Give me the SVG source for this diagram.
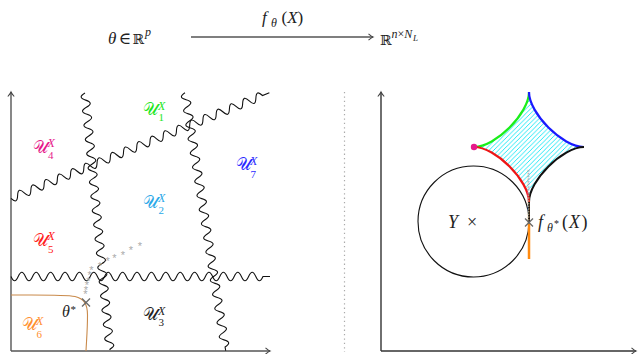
<svg xmlns="http://www.w3.org/2000/svg" width="638" height="354" viewBox="0 0 638 354">
<style>
.snake{fill:none;stroke:#111;stroke-width:1.1}
.axL{stroke:#555;stroke-width:1.4;fill:none}
.axR{stroke:#333;stroke-width:1.4;fill:none}
.t{font-family:"Liberation Serif","DejaVu Serif",serif;fill:#222}
.it{font-style:italic}
.cal{font-family:"DejaVu Serif","DejaVu Sans","Noto Sans",serif;font-size:17px}
.sup{font-family:"Liberation Serif","DejaVu Serif",serif;font-style:italic;font-size:12px}
.sub{font-family:"Liberation Serif","DejaVu Serif",serif;font-size:11px}
.st{fill:#aaa;font-family:"Liberation Sans",sans-serif;font-size:11px;text-anchor:middle}
.cross{stroke:#666;stroke-width:1.2}
</style>
<defs>
<marker id="to" viewBox="-6 -5 8 10" refX="0" refY="0" markerWidth="8" markerHeight="10" markerUnits="userSpaceOnUse" orient="auto">
<path d="M-4.5,-3.2 Q-1.5,-0.6 0,0 Q-1.5,0.6 -4.5,3.2" fill="none" stroke="#444" stroke-width="1.1"/>
</marker>
<pattern id="hatch" patternUnits="userSpaceOnUse" width="4.6" height="4.6">
<path d="M0,4.6 L4.6,0 M-1,1 L1,-1 M3.6,5.6 L5.6,3.6" stroke="#00e4f4" stroke-width="0.85"/>
</pattern>
</defs>

<g id="header">
<text class="t" font-size="17"><tspan class="it" x="108" y="43.5">θ</tspan><tspan x="118.5" y="43.5">∈</tspan><tspan x="132.5" y="43.5" font-size="14">ℝ</tspan><tspan class="it" x="145" y="36" font-size="12">p</tspan></text>
<line x1="191" y1="37" x2="373" y2="37" stroke="#555" stroke-width="1.3" marker-end="url(#to)"/>
<text class="t"><tspan class="it" x="262" y="23" font-size="17">f</tspan><tspan class="it" x="271" y="27" font-size="12">θ</tspan><tspan x="281.5" y="23" font-size="17">(</tspan><tspan class="it" font-size="17">X</tspan><tspan font-size="17">)</tspan></text>
<text class="t"><tspan x="380" y="45" font-size="14">ℝ</tspan><tspan x="391.5" y="38" font-size="12"><tspan class="it">n</tspan>×<tspan class="it">N</tspan></tspan><tspan class="it" x="413" y="41" font-size="9">L</tspan></text>
</g>

<g id="separator">
<line x1="344.5" y1="92" x2="344.5" y2="352" stroke="#aaa" stroke-width="1.2" stroke-dasharray="1.3 3.1"/>
</g>

<g id="left-panel">
<g id="left-axes">
<line class="axL" x1="11" y1="351" x2="11" y2="92" marker-end="url(#to)"/>
<line class="axL" x1="11" y1="351" x2="270" y2="351" marker-end="url(#to)"/>
</g>
<g id="connectors">
<path class="snake" transform="translate(85,93) rotate(84.44)" d="M0,0 c2.57,5.6 4.58,5.6 7.15,0 s4.58,-5.6 7.15,0 s4.58,5.6 7.15,0 s4.58,-5.6 7.15,0 s4.58,5.6 7.15,0 s4.58,-5.6 7.15,0 s4.58,5.6 7.15,0 s4.58,-5.6 7.15,0 s4.58,5.6 7.15,0 s4.58,-5.6 7.15,0 s4.58,5.6 7.15,0 s4.58,-5.6 7.15,0 s4.58,5.6 7.15,0 s4.58,-5.6 7.15,0 s4.58,5.6 7.15,0 s4.58,-5.6 7.15,0 s4.58,5.6 7.15,0 s4.58,-5.6 7.15,0 s4.58,5.6 7.15,0 s4.58,-5.6 7.15,0 s4.58,5.6 7.15,0 s4.58,-5.6 7.15,0 s4.58,5.6 7.15,0 s4.58,-5.6 7.15,0 s4.58,5.6 7.15,0 s4.58,-5.6 7.15,0 s4.58,5.6 7.15,0 s4.58,-5.6 7.15,0 s4.58,5.6 7.15,0 s4.58,-5.6 7.15,0 s4.58,5.6 7.15,0 s4.58,-5.6 7.15,0 s4.58,5.6 7.15,0 s4.58,-5.6 7.15,0 s4.58,5.6 7.15,0 s4.58,-5.6 7.15,0 l0.8,0"/>
<path class="snake" transform="translate(185,92.7) rotate(81.04)" d="M0,0 c2.57,5.6 4.58,5.6 7.15,0 s4.58,-5.6 7.15,0 s4.58,5.6 7.15,0 s4.58,-5.6 7.15,0 s4.58,5.6 7.15,0 s4.58,-5.6 7.15,0 s4.58,5.6 7.15,0 s4.58,-5.6 7.15,0 s4.58,5.6 7.15,0 s4.58,-5.6 7.15,0 s4.58,5.6 7.15,0 s4.58,-5.6 7.15,0 s4.58,5.6 7.15,0 s4.58,-5.6 7.15,0 s4.58,5.6 7.15,0 s4.58,-5.6 7.15,0 s4.58,5.6 7.15,0 s4.58,-5.6 7.15,0 s4.58,5.6 7.15,0 s4.58,-5.6 7.15,0 s4.58,5.6 7.15,0 s4.58,-5.6 7.15,0 s4.58,5.6 7.15,0 s4.58,-5.6 7.15,0 s4.58,5.6 7.15,0 s4.58,-5.6 7.15,0 s4.58,5.6 7.15,0 s4.58,-5.6 7.15,0 s4.58,5.6 7.15,0 s4.58,-5.6 7.15,0 s4.58,5.6 7.15,0 s4.58,-5.6 7.15,0 s4.58,5.6 7.15,0 s4.58,-5.6 7.15,0 s4.58,5.6 7.15,0 s4.58,-5.6 7.15,0 l3.8,0"/>
<path class="snake" transform="translate(11,198.3) rotate(-22.23)" d="M0,0 c2.57,5.6 4.58,5.6 7.15,0 s4.58,-5.6 7.15,0 s4.58,5.6 7.15,0 s4.58,-5.6 7.15,0 s4.58,5.6 7.15,0 s4.58,-5.6 7.15,0 s4.58,5.6 7.15,0 s4.58,-5.6 7.15,0 s4.58,5.6 7.15,0 s4.58,-5.6 7.15,0 s4.58,5.6 7.15,0 s4.58,-5.6 7.15,0 s4.58,5.6 7.15,0 s4.58,-5.6 7.15,0 s4.58,5.6 7.15,0 s4.58,-5.6 7.15,0 s4.58,5.6 7.15,0 s4.58,-5.6 7.15,0 s4.58,5.6 7.15,0 s4.58,-5.6 7.15,0 s4.58,5.6 7.15,0 s4.58,-5.6 7.15,0 s4.58,5.6 7.15,0 s4.58,-5.6 7.15,0 s4.58,5.6 7.15,0 s4.58,-5.6 7.15,0 s4.58,5.6 7.15,0 s4.58,-5.6 7.15,0 s4.58,5.6 7.15,0 s4.58,-5.6 7.15,0 s4.58,5.6 7.15,0 s4.58,-5.6 7.15,0 s4.58,5.6 7.15,0 s4.58,-5.6 7.15,0 s4.58,5.6 7.15,0 s4.58,-5.6 7.15,0 s4.58,5.6 7.15,0 s4.58,-5.6 7.15,0 l7.4,0"/>
<path class="snake" transform="translate(11,276.5)" d="M0,0 c2.59,5.6 4.61,5.6 7.2,0 s4.61,-5.6 7.2,0 s4.61,5.6 7.2,0 s4.61,-5.6 7.2,0 s4.61,5.6 7.2,0 s4.61,-5.6 7.2,0 s4.61,5.6 7.2,0 s4.61,-5.6 7.2,0 s4.61,5.6 7.2,0 s4.61,-5.6 7.2,0 s4.61,5.6 7.2,0 s4.61,-5.6 7.2,0 s4.61,5.6 7.2,0 s4.61,-5.6 7.2,0 s4.61,5.6 7.2,0 s4.61,-5.6 7.2,0 s4.61,5.6 7.2,0 s4.61,-5.6 7.2,0 s4.61,5.6 7.2,0 s4.61,-5.6 7.2,0 s4.61,5.6 7.2,0 s4.61,-5.6 7.2,0 s4.61,5.6 7.2,0 s4.61,-5.6 7.2,0 s4.61,5.6 7.2,0 s4.61,-5.6 7.2,0 s4.61,5.6 7.2,0 s4.61,-5.6 7.2,0 s4.61,5.6 7.2,0 s4.61,-5.6 7.2,0 s4.61,5.6 7.2,0 s4.61,-5.6 7.2,0 s4.61,5.6 7.2,0 s4.61,-5.6 7.2,0 s4.61,5.6 7.2,0 l7,0"/>
<path d="M11,295 C40,295 65,294.5 75,296.5 C84,298.5 87.5,304 87.5,315 C87.5,330 86.5,340 86,351" fill="none" stroke="#c98a4b" stroke-width="1.1"/>
</g>
<g id="region-labels">
<text id="U1" fill="#22e622"><tspan class="cal" x="143" y="115">𝒰</tspan><tspan class="sup" x="158" y="109.5">X</tspan><tspan class="sub" x="158.5" y="121">1</tspan></text>
<text id="U2" fill="#2aa8e8"><tspan class="cal" x="143" y="208">𝒰</tspan><tspan class="sup" x="158" y="201.5">X</tspan><tspan class="sub" x="158.5" y="213.5">2</tspan></text>
<text id="U3" fill="#222"><tspan class="cal" x="143" y="320">𝒰</tspan><tspan class="sup" x="158" y="314.5">X</tspan><tspan class="sub" x="158.5" y="326">3</tspan></text>
<text id="U4" fill="#e6198a"><tspan class="cal" x="32.5" y="153">𝒰</tspan><tspan class="sup" x="47.5" y="146.5">X</tspan><tspan class="sub" x="48" y="158.5">4</tspan></text>
<text id="U5" fill="#ff2020"><tspan class="cal" x="32.5" y="246">𝒰</tspan><tspan class="sup" x="47.5" y="239.5">X</tspan><tspan class="sub" x="48" y="252.5">5</tspan></text>
<text id="U6" fill="#ff9030"><tspan class="cal" x="21.5" y="330">𝒰</tspan><tspan class="sup" x="36" y="324.5">X</tspan><tspan class="sub" x="36.5" y="337.5">6</tspan></text>
<text id="U7" fill="#2a2aff"><tspan class="cal" x="235.5" y="170">𝒰</tspan><tspan class="sup" x="250" y="164.5">X</tspan><tspan class="sub" x="250.5" y="177.5">7</tspan></text>
</g>
<g id="theta-path">
<text class="st" x="85.5 86 87 88.3 89.7 91.5 100 107.7 114.5 123 131 140" y="298.4 293.9 289.4 284.7 279.4 274.4 269.7 265.4 262.4 259.4 254.4 250.4">************</text>
</g>
<g id="theta-star">
<line class="cross" x1="82" y1="298.5" x2="90" y2="306.5"/>
<line class="cross" x1="90" y1="298.5" x2="82" y2="306.5"/>
<text class="t"><tspan class="it" x="62" y="317" font-size="16">θ</tspan><tspan x="70.5" y="312.5" font-size="11">*</tspan></text>
</g>
</g>

<g id="right-panel">
<g id="right-axes">
<line class="axR" x1="381" y1="351" x2="381" y2="92" marker-end="url(#to)"/>
<line class="axR" x1="381" y1="351" x2="636" y2="351" marker-end="url(#to)"/>
</g>
<g id="ball">
<circle cx="473.5" cy="221.5" r="55.5" fill="none" stroke="#111" stroke-width="1.1"/>
<text class="t" y="228"><tspan class="it" x="448" font-size="18">Y</tspan><tspan x="467" font-size="18">×</tspan></text>
</g>
<g id="astroid">
<path d="M474,147 C495.5,147 529,113.5 529,92 C529,113.5 562.5,147 584,147 C562.5,147 529,180.5 529,202 C529,180.5 495.5,147 474,147 Z" fill="url(#hatch)" stroke="none"/>
<path d="M474,147 C495.5,147 529,113.5 529,92" fill="none" stroke="#1aee1a" stroke-width="2.2"/>
<path d="M529,92 C529,113.5 562.5,147 584,147" fill="none" stroke="#1a1aff" stroke-width="2.2"/>
<path d="M584,147 C562.5,147 529,180.5 529,202 L529,222" fill="none" stroke="#111" stroke-width="2"/>
<path d="M474,147 C495.5,147 529,180.5 529,202" fill="none" stroke="#ee1515" stroke-width="2.2"/>
<line x1="529" y1="223" x2="529" y2="259" stroke="#ff8a10" stroke-width="2.5"/>
<circle cx="474" cy="147" r="3.2" fill="#e6198a"/>
</g>
<g id="image-path">
<text transform="translate(532,224) rotate(-90)" fill="#aaa" font-family="Liberation Sans,sans-serif" font-size="7">********************</text>
</g>
<g id="f-theta-star">
<line class="cross" x1="525" y1="218.5" x2="533" y2="226.5"/>
<line class="cross" x1="533" y1="218.5" x2="525" y2="226.5"/>
<text class="t"><tspan class="it" x="538" y="228" font-size="18">f</tspan><tspan class="it" x="547" y="231.5" font-size="12">θ</tspan><tspan x="554" y="227" font-size="10">*</tspan><tspan x="562" y="228" font-size="18">(</tspan><tspan class="it" dx="1" font-size="18">X</tspan><tspan dx="1.5" font-size="18">)</tspan></text>
</g>
</g>
</svg>
